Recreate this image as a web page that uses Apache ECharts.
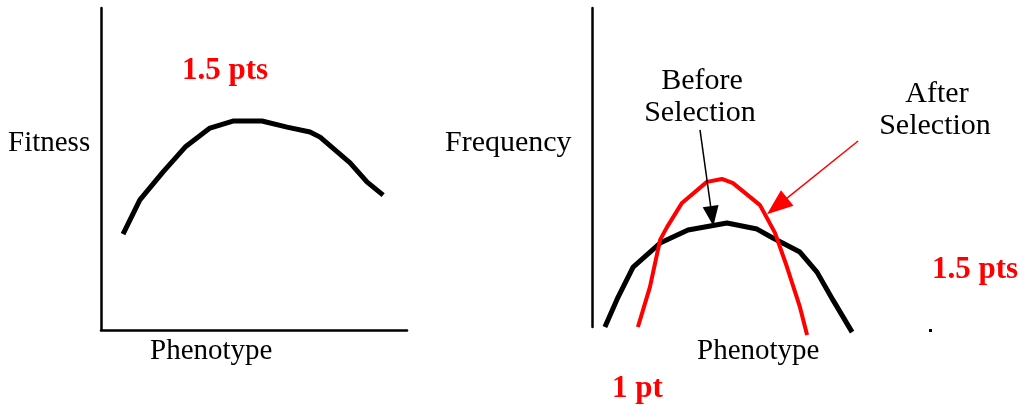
<!DOCTYPE html>
<html>
<head>
<meta charset="utf-8">
<script src="https://cdn.jsdelivr.net/npm/echarts@6/dist/echarts.min.js"></script>
<style>html,body{margin:0;padding:0;background:#fff;}#c{width:1023px;height:409px;}</style>
</head>
<body>
<div id="c"></div>
<script>
// Left panel: fitness vs phenotype
var fitnessX = [7.2, 12.7, 20.3, 27.5, 35.6, 43.1, 52.6, 60.8, 68.3, 71.6, 81.4, 86.9, 92.2];
var fitnessY = [29.8, 40.4, 49.1, 56.8, 62.7, 64.9, 64.9, 63.0, 61.5, 59.9, 51.9, 46.0, 41.9];
// Right panel: frequency before selection
var beforeX = [4.3, 8.7, 13.7, 22.7, 32.0, 45.0, 55.0, 60.3, 69.3, 75.0, 80.3, 86.7];
var beforeY = [0, 9.4, 18.8, 26.3, 30.4, 32.6, 30.7, 27.9, 23.5, 17.2, 8.5, -1.6];
// Right panel: frequency after selection
var afterX = [15.3, 19.3, 22.7, 25.0, 30.0, 38.3, 43.3, 47.0, 56.0, 61.0, 65.0, 69.3, 71.7];
var afterY = [0, 12.5, 27.3, 31.3, 38.9, 45.5, 46.4, 45.1, 38.2, 29.5, 18.8, 6.3, -2.5];
// Annotation arrows [fromX, fromY, toX, toY]
var beforeArrow = [36.0, 61.8, 40.0, 34.8];
var afterArrow = [88.7, 58.3, 61.7, 37.9];

function zip(xs, ys) { return xs.map(function (x, i) { return [x, ys[i]]; }); }

var serif = '"Liberation Serif", "Times New Roman", serif';
function txt(t, x, y, size, color, bold, align) {
  return { type: 'text', silent: true, style: { text: t, x: x, y: y, fill: color || '#000',
    fontSize: size, fontFamily: serif, fontWeight: bold ? 'bold' : 'normal',
    align: align || 'left', verticalAlign: 'middle' } };
}

var axisCommon = { type: 'value', min: 0, max: 100, axisTick: { show: false }, axisLabel: { show: false }, splitLine: { show: false } };

var chart = echarts.init(document.getElementById('c'));
chart.setOption({
  animation: false,
  grid: [
    { left: 101, top: 8, width: 306, height: 322 },
    { left: 592, top: 8, width: 300, height: 319 }
  ],
  xAxis: [
    Object.assign({}, axisCommon, { gridIndex: 0, axisLine: { show: true, lineStyle: { color: '#000', width: 2.5 } } }),
    Object.assign({}, axisCommon, { gridIndex: 1, axisLine: { show: false } })
  ],
  yAxis: [
    Object.assign({}, axisCommon, { gridIndex: 0, axisLine: { show: true, lineStyle: { color: '#000', width: 2.5 } } }),
    Object.assign({}, axisCommon, { gridIndex: 1, axisLine: { show: true, lineStyle: { color: '#000', width: 2.5 } } })
  ],
  series: [
    { type: 'line', xAxisIndex: 0, yAxisIndex: 0, data: zip(fitnessX, fitnessY), symbol: 'none', clip: false,
      lineStyle: { color: '#000', width: 5 } },
    { type: 'line', xAxisIndex: 1, yAxisIndex: 1, data: zip(beforeX, beforeY), symbol: 'none', clip: false,
      lineStyle: { color: '#000', width: 5 },
      markLine: { silent: true, symbol: ['none', 'triangle'], symbolSize: [16, 20], label: { show: false },
        lineStyle: { color: '#000', width: 1.5, type: 'solid' },
        data: [[{ coord: [beforeArrow[0], beforeArrow[1]] }, { coord: [beforeArrow[2], beforeArrow[3]] }]] } },
    { type: 'line', xAxisIndex: 1, yAxisIndex: 1, data: zip(afterX, afterY), symbol: 'none', clip: false,
      lineStyle: { color: '#ff0000', width: 4 },
      markLine: { silent: true, symbol: ['none', 'triangle'], symbolSize: [20, 26], label: { show: false },
        lineStyle: { color: '#ff0000', width: 1.5, type: 'solid' },
        data: [[{ coord: [afterArrow[0], afterArrow[1]] }, { coord: [afterArrow[2], afterArrow[3]] }]] } }
  ],
  graphic: [
    txt('Fitness', 8, 143, 29),
    txt('Phenotype', 150, 351, 29),
    txt('1.5 pts', 182, 71, 31, '#ff0000', true),
    txt('Frequency', 445, 143, 30),
    txt('Phenotype', 697, 351, 29),
    txt('Before', 702, 81, 30, '#000', false, 'center'),
    txt('Selection', 700, 113, 30, '#000', false, 'center'),
    txt('After', 937, 94, 30, '#000', false, 'center'),
    txt('Selection', 935, 126, 30, '#000', false, 'center'),
    txt('1.5 pts', 932, 270, 31, '#ff0000', true),
    txt('1 pt', 612, 389, 31, '#ff0000', true),
    { type: 'rect', silent: true, shape: { x: 929, y: 329, width: 3, height: 3 }, style: { fill: '#000' } }
  ]
});
</script>
</body>
</html>
